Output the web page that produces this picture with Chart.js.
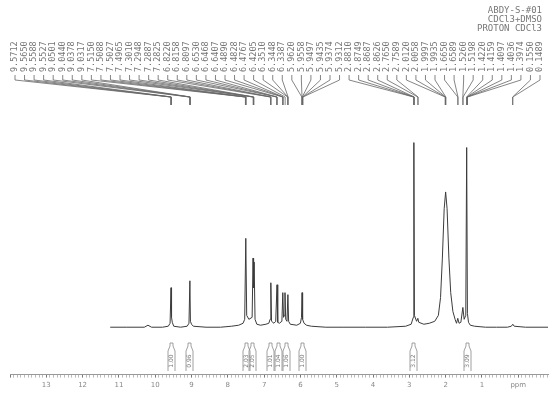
<!DOCTYPE html>
<html>
<head>
<meta charset="utf-8">
<script src="https://cdn.jsdelivr.net/npm/chart.js@4.4.0/dist/chart.umd.min.js"></script>
<style>
    body { margin: 0; background: #fff; }
    #spectrum { display: block; }
</style>
</head>
<body>
<canvas id="spectrum" width="551" height="394"></canvas>
<script>
// spectrum trace (ppm, intensity above baseline)
const shiftPpm = [11.24, 10.8, 10.3, 10.2, 10.1, 9.8,
    9.64, 9.59, 9.565, 9.55, 9.53, 9.49, 9.3,
    9.12, 9.07, 9.045, 9.03, 9.0, 8.95, 8.6, 8.2, 7.9, 7.7,
    7.58, 7.535, 7.505, 7.48, 7.42, 7.33, 7.305, 7.29, 7.275, 7.25, 7.2, 7.1, 6.95,
    6.87, 6.835, 6.815, 6.795, 6.73, 6.68, 6.645, 6.625, 6.58, 6.51, 6.485, 6.465, 6.44, 6.425, 6.405, 6.37, 6.345, 6.325, 6.28, 6.1,
    6.0, 5.97, 5.955, 5.94, 5.9, 5.83, 5.7, 5.3, 4.8, 4.2, 3.6, 3.1,
    2.95, 2.89, 2.875, 2.86, 2.8, 2.765, 2.74, 2.6, 2.45, 2.3, 2.2, 2.14, 2.09, 2.04, 2.0, 1.96, 1.91, 1.86, 1.8, 1.74, 1.7,
    1.665, 1.63, 1.58, 1.525, 1.49, 1.445, 1.42, 1.40, 1.37, 1.32, 1.2, 0.9, 0.6, 0.3, 0.19, 0.15, 0.11, -0.2, -0.82];
const intensity = [0, 0, 0, 2, 0, 0,
    1, 4, 40, 10, 5, 1, 0,
    1, 4, 47, 6, 3, 1, 0, 0, 1, 2,
    4, 8, 90, 12, 8, 10, 70, 40, 66, 8, 3, 2, 3,
    4, 8, 45, 6, 4, 6, 43, 5, 4, 6, 35, 10, 12, 35, 8, 6, 33, 6, 3, 2,
    4, 10, 35, 8, 4, 2, 1, 0, 0, 0, 0, 1,
    3, 10, 187, 12, 6, 9, 5, 3, 4, 6, 12, 30, 70, 120, 137, 120, 70, 35, 16, 8, 4,
    9, 4, 5, 20, 8, 12, 182, 14, 5, 2, 1, 0, 0, 0, 1, 3, 1, 0, 0];

// peak pick list printed along the top
const peakList = [9.5712, 9.5650, 9.5588, 9.5527, 9.0501, 9.0440, 9.0378, 9.0317,
    7.5150, 7.5088, 7.5027, 7.4965, 7.3010, 7.2948, 7.2887, 7.2825,
    6.8220, 6.8158, 6.8097, 6.6530, 6.6468, 6.6407, 6.4890, 6.4828, 6.4767, 6.4205,
    6.3510, 6.3448, 6.3387, 5.9620, 5.9558, 5.9497, 5.9435, 5.9374, 5.9312,
    2.8810, 2.8749, 2.8687, 2.8626, 2.7650, 2.7589, 2.0120, 2.0058, 1.9997, 1.9935,
    1.6650, 1.6589, 1.5260, 1.5198, 1.4220, 1.4159, 1.4097, 1.4036, 1.3974, 0.1550, 0.1489];

// integrals under the trace
const integralPpm = [9.56, 9.06, 7.49, 7.32, 6.83, 6.61, 6.39, 5.95, 2.90, 1.41];
const integralText = ['1.00', '0.96', '2.03', '2.05', '1.01', '1.04', '1.06', '1.00', '3.12', '3.09'];

// axis ticks
const tickValues = [13, 12, 11, 10, 9, 8, 7, 6, 5, 4, 3, 2, 1, 0];
const tickText = ['13', '12', '11', '10', '9', '8', '7', '6', '5', '4', '3', '2', '1', 'ppm'];

const headerLines = ['ABDY-S-#01', 'CDCl3+DMSO', 'PROTON CDCl3'];

const isWhole = v => Math.abs(v - Math.round(v)) < 1e-6;

const decorPlugin = {
    id: 'nmrDecor',
    afterDraw(chart) {
        const ctx = chart.ctx;
        const xs = chart.scales.x;
        ctx.save();

        // header text, top right
        ctx.fillStyle = '#777';
        ctx.font = '9px "DejaVu Sans Mono"';
        ctx.textAlign = 'right';
        ctx.textBaseline = 'middle';
        headerLines.forEach((t, i) => ctx.fillText(t, 542, 11 + i * 9));

        // peak labels with leader lines
        const n = peakList.length;
        const left = 15, right = 540;
        ctx.strokeStyle = '#666';
        ctx.lineWidth = 0.8;
        ctx.font = '8.5px "DejaVu Sans Mono"';
        ctx.textAlign = 'left';
        peakList.forEach((p, i) => {
            const lx = left + (right - left) * i / (n - 1);
            const px = xs.getPixelForValue(p);
            ctx.save();
            ctx.translate(lx, 72);
            ctx.rotate(-Math.PI / 2);
            ctx.fillText(p.toFixed(4), 0, 0);
            ctx.restore();
            ctx.beginPath();
            ctx.moveTo(lx, 75);
            ctx.lineTo(lx, 80);
            ctx.lineTo(px, 97);
            ctx.lineTo(px, 105);
            ctx.stroke();
        });

        // integral marks
        ctx.strokeStyle = '#888';
        ctx.lineWidth = 0.8;
        ctx.font = '6px "DejaVu Sans"';
        ctx.textAlign = 'center';
        integralPpm.forEach((p, i) => {
            const px = Math.round(xs.getPixelForValue(p)) + 0.5;
            ctx.beginPath();
            ctx.moveTo(px - 3.5, 371);
            ctx.lineTo(px - 3.5, 351);
            ctx.lineTo(px - 1.5, 346);
            ctx.lineTo(px - 1.5, 343);
            ctx.lineTo(px + 1.5, 343);
            ctx.lineTo(px + 1.5, 346);
            ctx.lineTo(px + 3.5, 351);
            ctx.lineTo(px + 3.5, 371);
            ctx.stroke();
            ctx.save();
            ctx.translate(px, 361);
            ctx.rotate(-Math.PI / 2);
            ctx.fillText(integralText[i], 0, 0);
            ctx.restore();
        });
        ctx.restore();
    }
};

const ctx = document.getElementById('spectrum').getContext('2d');
new Chart(ctx, {
    type: 'line',
    data: {
        datasets: [{
            data: shiftPpm.map((x, i) => ({ x: x, y: intensity[i] })),
            borderColor: '#3c3c3c',
            borderWidth: 1,
            pointRadius: 0,
            tension: 0,
            fill: false
        }]
    },
    options: {
        responsive: false,
        animation: false,
        devicePixelRatio: 1,
        layout: { padding: { left: 10, right: 3, top: 110, bottom: 2 } },
        plugins: { legend: { display: false }, tooltip: { enabled: false } },
        scales: {
            x: {
                type: 'linear',
                reverse: true,
                min: -0.82,
                max: 14.0,
                border: { display: true, color: '#999' },
                grid: {
                    drawOnChartArea: false,
                    tickLength: 3,
                    tickColor: c => isWhole(c.tick.value) ? '#777' : '#bbb'
                },
                ticks: {
                    stepSize: 0.1,
                    autoSkip: false,
                    includeBounds: false,
                    maxRotation: 0,
                    padding: 3,
                    color: '#888',
                    font: { size: 7, family: 'DejaVu Sans' },
                    callback: function(v) {
                        if (!isWhole(v)) return '';
                        const idx = tickValues.indexOf(Math.round(v));
                        return idx >= 0 ? tickText[idx] : '';
                    }
                }
            },
            y: {
                display: false,
                min: -48,
                max: 220
            }
        }
    },
    plugins: [decorPlugin]
});
</script>
</body>
</html>
